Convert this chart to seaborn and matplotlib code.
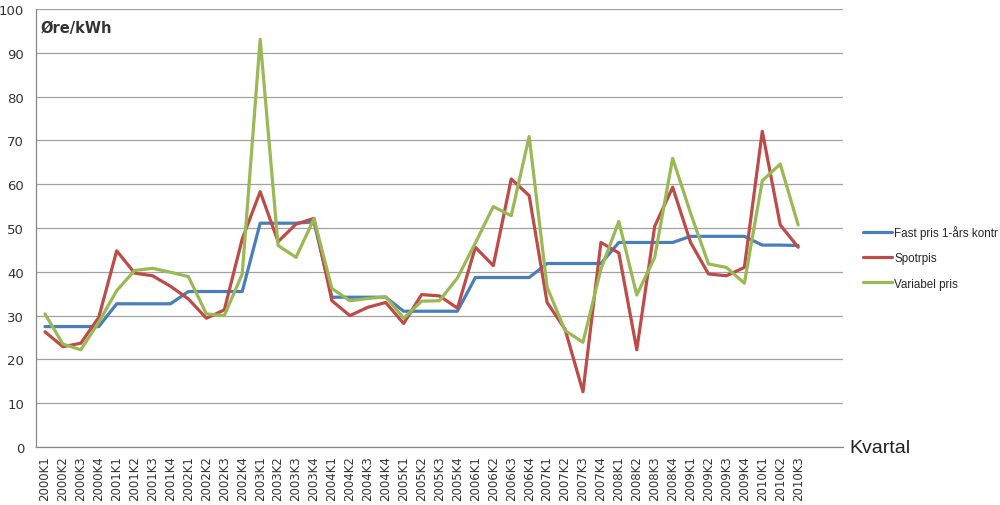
import matplotlib
matplotlib.use("Agg")
import matplotlib.pyplot as plt
import numpy as np
import pandas as pd
import seaborn as sns

# quarters 2000K1 .. 2010K3
quarters = [f"{y}K{q}" for y in range(2000, 2011) for q in range(1, 5)][:43]

fast_pris = [27.5, 27.5, 27.5, 27.5, 32.7, 32.7, 32.7, 32.7, 35.5, 35.5, 35.5, 35.5,
             51.1, 51.1, 51.1, 51.4, 34.2, 34.2, 34.2, 34.2, 31.0, 31.0, 31.0, 31.0,
             38.7, 38.7, 38.7, 38.7, 41.9, 41.9, 41.9, 41.9, 46.7, 46.7, 46.7, 46.7,
             48.1, 48.1, 48.1, 48.1, 46.1, 46.1, 46.0]
spotpris = [26.3, 22.9, 23.7, 29.6, 44.8, 39.7, 39.1, 36.7, 33.8, 29.4, 31.3, 47.5,
            58.3, 46.9, 50.9, 52.2, 33.4, 30.0, 31.9, 33.0, 28.2, 34.8, 34.5, 31.7,
            45.6, 41.4, 61.2, 57.4, 33.0, 26.9, 12.6, 46.7, 44.3, 22.2, 50.4, 59.3,
            46.7, 39.5, 39.1, 41.0, 72.1, 50.7, 45.6]
variabel_pris = [30.4, 23.5, 22.2, 28.5, 35.7, 40.3, 40.8, 39.9, 38.9, 30.4, 30.0, 39.5,
                 93.1, 46.0, 43.3, 52.1, 36.2, 33.4, 33.9, 34.3, 29.4, 33.3, 33.4, 38.6,
                 46.6, 54.9, 52.8, 70.9, 36.5, 26.6, 23.9, 40.6, 51.5, 34.7, 43.3, 65.9,
                 53.4, 41.8, 41.0, 37.4, 60.8, 64.6, 50.7]

# legend label as far as it is visible in the original
series_names = ["Fast pris 1-års kontr", "Spotrpis", "Variabel pris"]
colors = ["#4a7ebb", "#be4b48", "#98b954"]

df = pd.DataFrame({
    "idx": list(range(len(quarters))) * 3,
    "pris": fast_pris + spotpris + variabel_pris,
    "serie": [series_names[0]] * 43 + [series_names[1]] * 43 + [series_names[2]] * 43,
})

sns.set_style("white")
fig = plt.figure(figsize=(10, 5.06), dpi=100)
ax = fig.add_axes([0.036, 0.1146, 0.807, 0.8656])

sns.lineplot(data=df, x="idx", y="pris", hue="serie", palette=colors,
             linewidth=2.3, ax=ax, legend=True)

ax.set_xlim(-0.5, 44.5)
ax.set_ylim(0, 100)
ax.set_yticks(range(0, 101, 10))
ax.yaxis.grid(True, color="#a0a0a0", linewidth=0.9)
ax.set_axisbelow(True)

# category ticks between the quarters, labels in the middle
ax.set_xticks(np.arange(-0.5, 45, 1.0))
ax.set_xticklabels([])
ax.set_xticks(range(len(quarters)), minor=True)
ax.set_xticklabels(quarters, minor=True, rotation=90, fontsize=8.5, color="#333333")
ax.tick_params(axis="x", which="major", length=5, color="#888888", direction="out")
ax.tick_params(axis="x", which="minor", length=0, pad=6)
ax.tick_params(axis="y", length=5, color="#888888", labelsize=9.5, labelcolor="#333333")

for s in ["top", "right"]:
    ax.spines[s].set_visible(False)
for s in ["left", "bottom"]:
    ax.spines[s].set_color("#888888")
    ax.spines[s].set_linewidth(0.9)

ax.set_xlabel("")
ax.set_ylabel("")
ax.text(0.006, 0.975, "Øre/kWh", transform=ax.transAxes, fontsize=10.5,
        fontweight="bold", color="#333333", va="top", ha="left")
fig.text(0.849, 0.113, "Kvartal", fontsize=14, family="Liberation Sans",
         color="#222222", va="center", ha="left")

leg = ax.legend(loc="upper left", bbox_to_anchor=(0.858, 0.563),
                bbox_transform=fig.transFigure, frameon=False,
                prop={"family": "Liberation Sans", "size": 8.4},
                handlelength=2.5, handletextpad=0.2, labelspacing=1.15,
                borderaxespad=0)

fig.savefig("out.png", dpi=100)
